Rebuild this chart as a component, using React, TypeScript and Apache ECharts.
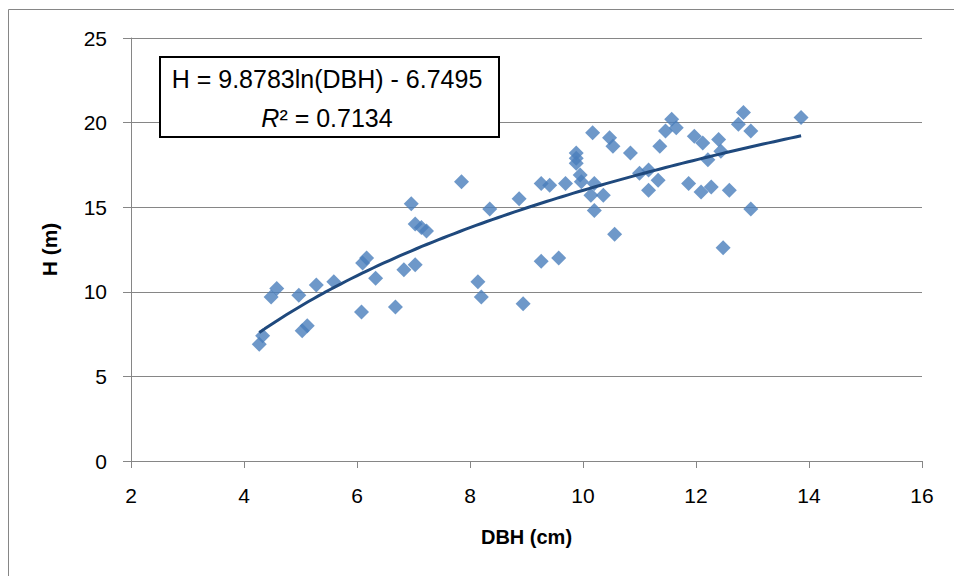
import React, { useEffect, useRef } from "react";
import * as echarts from "echarts";

const dbh = [
  4.27, 4.33, 4.48, 4.58, 4.97, 5.03, 5.12, 5.28, 5.59, 6.08,
  6.1, 6.17, 6.33, 6.68, 6.83, 7.03, 6.96, 7.03, 7.14, 7.23,
  7.85, 8.14, 8.2, 8.35, 8.87, 8.94, 9.26, 9.26, 9.41, 9.57,
  9.69, 9.88, 9.88, 9.88, 9.95, 9.97, 10.17, 10.2, 10.14, 10.2,
  10.36, 10.47, 10.53, 10.56, 10.84, 11.0, 11.16, 11.16, 11.33, 11.36,
  11.46, 11.57, 11.65, 11.87, 11.97, 12.09, 12.12, 12.21, 12.27, 12.4,
  12.44, 12.48, 12.59, 12.75, 12.84, 12.97, 12.97, 13.86,
];
const heightM = [
  6.9, 7.4, 9.7, 10.2, 9.8, 7.7, 8.0, 10.4, 10.6, 8.8,
  11.7, 12.0, 10.8, 9.1, 11.3, 11.6, 15.2, 14.0, 13.8, 13.6,
  16.5, 10.6, 9.7, 14.9, 15.5, 9.3, 11.8, 16.4, 16.3, 12.0,
  16.4, 18.2, 17.9, 17.6, 16.9, 16.5, 19.4, 16.4, 15.7, 14.8,
  15.7, 19.1, 18.6, 13.4, 18.2, 17.0, 17.2, 16.0, 16.6, 18.6,
  19.5, 20.2, 19.7, 16.4, 19.2, 15.9, 18.8, 17.8, 16.2, 19.0,
  18.3, 12.6, 16.0, 19.9, 20.6, 19.5, 14.9, 20.3,
];

// Logarithmic trendline coefficients as shown on the chart
const trendSlope = 9.8783;
const trendIntercept = -6.7495;
const equationLabel = "H = 9.8783ln(DBH) - 6.7495";
const r2Value = "0.7134";

const xAxisTitle = "DBH (cm)";
const yAxisTitle = "H (m)";

const FONT = "'Liberation Sans', Arial, sans-serif";
const GRAY = "#868686";

export default function App() {
  const ref = useRef<HTMLDivElement>(null);

  useEffect(() => {
    if (!ref.current) return;
    const chart = echarts.init(ref.current, null, { renderer: "svg" });

    const points = dbh.map((x, i) => [x, heightM[i]]);
    const xmin = Math.min(...dbh);
    const xmax = Math.max(...dbh);
    const steps = 100;
    const trend: number[][] = [];
    for (let i = 0; i <= steps; i++) {
      const x = xmin + ((xmax - xmin) * i) / steps;
      trend.push([x, trendSlope * Math.log(x) + trendIntercept]);
    }

    chart.setOption({
      animation: false,
      backgroundColor: "#ffffff",
      textStyle: { fontFamily: FONT },
      grid: { left: 131, top: 38, width: 791, height: 423, containLabel: false },
      xAxis: {
        type: "value",
        min: 2,
        max: 16,
        interval: 2,
        name: xAxisTitle,
        nameLocation: "middle",
        nameGap: 66,
        nameTextStyle: {
          fontFamily: FONT,
          fontSize: 20,
          fontWeight: "bold",
          color: "#000",
          lineHeight: 20,
        },
        axisLine: { show: true, lineStyle: { color: GRAY, width: 1 } },
        axisTick: { show: true, inside: false, length: 7, lineStyle: { color: GRAY, width: 1 } },
        axisLabel: { fontFamily: FONT, fontSize: 21, color: "#000", margin: 24, lineHeight: 21 },
        splitLine: { show: false },
      },
      yAxis: {
        type: "value",
        min: 0,
        max: 25,
        interval: 5,
        name: yAxisTitle,
        nameLocation: "middle",
        nameGap: 71,
        nameTextStyle: {
          fontFamily: FONT,
          fontSize: 21,
          fontWeight: "bold",
          color: "#000",
          lineHeight: 21,
        },
        axisLine: { show: true, lineStyle: { color: GRAY, width: 1 } },
        axisTick: { show: true, inside: false, length: 8, lineStyle: { color: GRAY, width: 1 } },
        axisLabel: { fontFamily: FONT, fontSize: 21, color: "#000", margin: 24 },
        splitLine: { show: true, lineStyle: { color: GRAY, width: 1 } },
      },
      series: [
        {
          type: "scatter",
          data: points,
          symbol: "diamond",
          symbolSize: 15,
          itemStyle: { color: "#4A7EBB" },
          z: 2,
        },
        {
          type: "line",
          data: trend,
          showSymbol: false,
          symbol: "none",
          smooth: false,
          lineStyle: { color: "#1F497D", width: 3 },
          z: 3,
        },
      ],
      graphic: [
        {
          type: "rect",
          silent: true,
          shape: { x: 8.5, y: 9.5, width: 1000, height: 1000 },
          style: { fill: "none", stroke: GRAY, lineWidth: 1 },
          z: 0,
        },
        {
          type: "rect",
          silent: true,
          shape: { x: 160, y: 57, width: 339, height: 80 },
          style: { fill: "#ffffff", stroke: "#000000", lineWidth: 2 },
          z: 100,
        },
        {
          type: "text",
          silent: true,
          x: 327,
          y: 79,
          style: {
            text: equationLabel,
            fontFamily: FONT,
            fontSize: 25,
            fill: "#000",
            align: "center",
            verticalAlign: "middle",
          },
          z: 101,
        },
        {
          type: "text",
          silent: true,
          x: 327,
          y: 117.5,
          style: {
            text: "{i|R}² = " + r2Value,
            fontFamily: FONT,
            fontSize: 25,
            fill: "#000",
            align: "center",
            verticalAlign: "middle",
            rich: {
              i: { fontFamily: FONT, fontSize: 25, fontStyle: "italic", fill: "#000" },
            },
          },
          z: 101,
        },
      ],
    });

    return () => chart.dispose();
  }, []);

  return (
    <div
      ref={ref}
      style={{ position: "fixed", left: 0, top: 0, width: 954, height: 576, background: "#fff" }}
    />
  );
}
